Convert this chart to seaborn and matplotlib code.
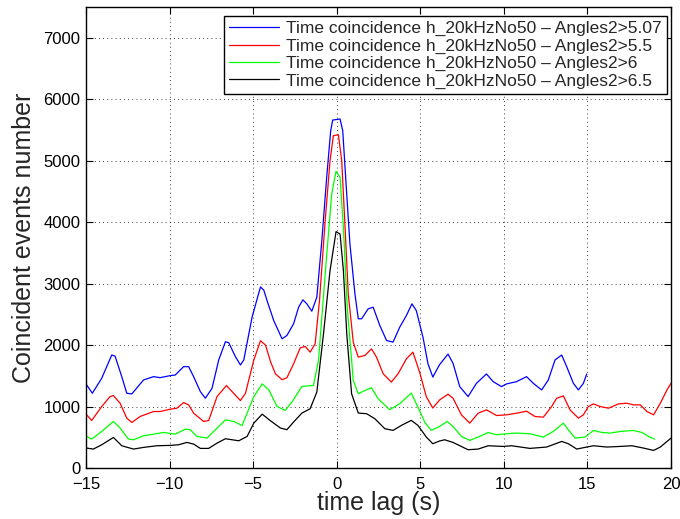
import numpy as np
import pandas as pd
import matplotlib
matplotlib.use("Agg")
import matplotlib.pyplot as plt
import seaborn as sns

labels = [
    "Time coincidence h_20kHzNo50 \u2013 Angles2>5.07",
    "Time coincidence h_20kHzNo50 \u2013 Angles2>5.5",
    "Time coincidence h_20kHzNo50 \u2013 Angles2>6",
    "Time coincidence h_20kHzNo50 \u2013 Angles2>6.5",
]
colors = ["#0000ff", "#ff0000", "#00ff00", "#000000"]

blue_t = [-14.96, -14.62, -14.06, -13.46, -13.26, -12.86, -12.56, -12.26, -11.56, -10.96,
          -10.56, -9.96, -9.66, -9.16, -8.86, -8.56, -8.16, -7.86, -7.46, -7.06,
          -6.66, -6.46, -6.06, -5.76, -5.56, -5.06, -4.56, -4.36, -4.17, -3.77,
          -3.27, -2.98, -2.58, -2.28, -2.02, -1.79, -1.49, -1.19, -0.89, -0.6,
          -0.36, -0.24, 0.2, 0.36, 0.56, 0.79, 1.09, 1.29, 1.49, 1.88,
          2.18, 2.58, 2.98, 3.37, 3.77, 4.17, 4.5, 4.76, 5.16, 5.46,
          5.75, 6.15, 6.66, 6.96, 7.36, 7.86, 8.36, 8.96, 9.36, 9.86,
          10.16, 10.76, 11.36, 11.76, 12.26, 12.66, 13.06, 13.46, 13.76, 14.16,
          14.46, 14.76, 14.96]
blue_v = [1351, 1216, 1460, 1838, 1820, 1486, 1216, 1205, 1432, 1486,
          1470, 1503, 1513, 1649, 1649, 1486, 1243, 1135, 1297, 1757,
          2054, 2038, 1811, 1676, 1757, 2459, 2946, 2892, 2725, 2400,
          2102, 2156, 2346, 2616, 2736, 2671, 2551, 2779, 3700, 4729,
          5488, 5661, 5677, 5488, 4621, 3646, 2833, 2427, 2427, 2589,
          2616, 2318, 2075, 2048, 2291, 2481, 2671, 2562, 2129, 1696,
          1479, 1680, 1854, 1703, 1324, 1162, 1378, 1530, 1405, 1324,
          1368, 1405, 1486, 1378, 1270, 1432, 1757, 1838, 1649, 1378,
          1270, 1378, 1530]

red_t = [-14.96, -14.66, -14.06, -13.56, -13.36, -12.96, -12.56, -12.26, -11.76, -10.96,
         -10.56, -9.96, -9.56, -9.16, -8.86, -8.56, -7.96, -7.66, -7.16, -6.6,
         -6.26, -5.76, -5.46, -4.96, -4.56, -4.26, -3.96, -3.67, -3.27, -2.98,
         -2.58, -2.18, -1.88, -1.59, -1.29, -1.03, -0.69, -0.4, -0.2, 0.1,
         0.3, 0.5, 0.69, 0.99, 1.29, 1.69, 2.08, 2.38, 2.78, 3.27,
         3.67, 4.17, 4.56, 4.96, 5.36, 5.75, 6.16, 6.66, 6.96, 7.46,
         7.96, 8.46, 8.96, 9.56, 10.16, 10.76, 11.36, 11.86, 12.36, 12.86,
         13.16, 13.56, 13.96, 14.46, 14.76, 15.06, 15.36, 15.76, 16.26, 16.86,
         17.36, 17.76, 18.16, 18.56, 18.96, 19.36, 19.76, 20.0]
red_v = [865, 773, 1000, 1162, 1178, 1054, 811, 741, 838, 919,
         919, 957, 973, 1065, 1027, 892, 757, 773, 1162, 1341,
         1243, 1097, 1216, 1757, 2070, 2000, 1730, 1533, 1436, 1468,
         1696, 1956, 1977, 1885, 2021, 2725, 4025, 5000, 5406, 5422,
         5000, 3917, 2833, 2048, 1804, 1831, 1939, 1804, 1533, 1398,
         1533, 1777, 1885, 1560, 1160, 975, 1108, 1200, 1135, 865,
         730, 892, 946, 854, 865, 892, 924, 838, 827, 1000,
         1135, 1173, 946, 811, 865, 1000, 1043, 1000, 973, 1043,
         1054, 1027, 1027, 919, 865, 1054, 1270, 1378]

green_t = [-14.96, -14.66, -14.06, -13.36, -12.96, -12.46, -12.16, -11.56, -10.96, -10.36,
           -9.66, -9.06, -8.76, -8.36, -7.76, -7.36, -6.66, -6.16, -5.66, -4.96,
           -4.46, -4.06, -3.57, -3.08, -2.68, -2.08, -1.39, -1.09, -0.69, -0.3,
           -0.04, 0.2, 0.4, 0.63, 0.99, 1.29, 1.69, 2.08, 2.48, 3.17,
           3.77, 4.46, 4.86, 5.26, 5.65, 6.16, 6.6, 6.96, 7.46, 7.96,
           8.46, 9.06, 9.56, 10.16, 10.76, 11.56, 12.36, 12.96, 13.56, 13.86,
           14.26, 14.86, 15.36, 15.86, 16.36, 16.96, 17.76, 18.26, 18.66, 19.02]
green_v = [514, 470, 595, 757, 649, 470, 459, 524, 551, 578,
           551, 632, 622, 514, 486, 595, 784, 757, 692, 1162,
           1368, 1270, 1000, 937, 1073, 1327, 1343, 1750, 3158, 4458,
           4827, 4729, 3917, 2616, 1425, 1208, 1262, 1306, 1127, 948,
           1046, 1219, 991, 748, 612, 676, 757, 676, 514, 449,
           503, 578, 541, 557, 568, 557, 503, 595, 730, 622,
           486, 503, 611, 578, 568, 595, 611, 578, 514, 470]

black_t = [-14.96, -14.56, -14.06, -13.36, -12.86, -12.16, -11.56, -10.76, -9.96, -9.46,
           -8.96, -8.56, -8.16, -7.66, -7.16, -6.66, -5.86, -5.36, -4.96, -4.46,
           -3.97, -3.37, -2.98, -2.58, -2.08, -1.59, -1.19, -0.79, -0.4, -0.04,
           0.2, 0.4, 0.6, 0.89, 1.29, 1.79, 2.28, 2.88, 3.37, 3.87,
           4.46, 4.86, 5.36, 5.75, 6.15, 6.46, 6.96, 7.86, 8.46, 9.06,
           9.96, 10.46, 11.56, 12.56, 13.46, 13.86, 14.36, 14.96, 15.36, 16.16,
           16.96, 17.66, 18.36, 18.96, 19.36, 20.0]
black_v = [324, 308, 378, 497, 362, 308, 335, 362, 368, 378,
           416, 389, 319, 319, 405, 476, 443, 514, 730, 876,
           770, 650, 623, 748, 894, 964, 1235, 2183, 3212, 3846,
           3808, 3212, 2183, 1208, 894, 883, 802, 639, 612, 693,
           775, 693, 504, 395, 439, 459, 416, 297, 308, 362,
           351, 362, 319, 341, 432, 395, 308, 341, 362, 341,
           351, 362, 324, 286, 341, 486]

series_t = [blue_t, red_t, green_t, black_t]
series_v = [blue_v, red_v, green_v, black_v]

frames = []
for lab, t, v in zip(labels, series_t, series_v):
    frames.append(pd.DataFrame({"t": t, "v": v, "series": lab}))
df = pd.concat(frames, ignore_index=True)

sns.set_style("ticks")
plt.rcParams["font.family"] = ["Liberation Sans", "DejaVu Sans"]

fig = plt.figure(figsize=(6.8, 5.19), dpi=100)
ax = fig.add_axes([86 / 680, 51 / 519, 585 / 680, 461 / 519])

sns.lineplot(data=df, x="t", y="v", hue="series", hue_order=labels,
             palette=dict(zip(labels, colors)), estimator=None, sort=True,
             linewidth=0.9, ax=ax)

ax.set_xlim(-15, 20)
ax.set_ylim(0, 7500)
ax.set_xticks(np.arange(-15, 21, 5))
ax.set_yticks(np.arange(0, 7001, 1000))
ax.tick_params(direction="in", top=True, right=True, length=5, width=0.8,
               labelsize=12, colors="black")
ax.tick_params(axis="y", pad=4)
ax.tick_params(axis="x", pad=6.5)
ax.grid(True, linestyle=(0, (1, 4)), color="black", linewidth=0.6)
for s in ax.spines.values():
    s.set_visible(True)
    s.set_linewidth(1.0)
    s.set_color("black")

ax.set_xlabel("time lag (s)", fontsize=18, labelpad=-1)
ax.set_ylabel("Coincident events number", fontsize=18)
ax.yaxis.set_label_coords(-0.085, 0.5)

leg = ax.legend(loc="upper right", bbox_to_anchor=(0.9935, 0.9805), borderaxespad=0,
                fontsize=12.5, frameon=True, fancybox=False, framealpha=1,
                edgecolor="black", handlelength=2.9, handletextpad=0.4,
                labelspacing=0.12, borderpad=0.3, title=None)
leg.get_frame().set_linewidth(1.0)

fig.savefig("out.png", dpi=100)
